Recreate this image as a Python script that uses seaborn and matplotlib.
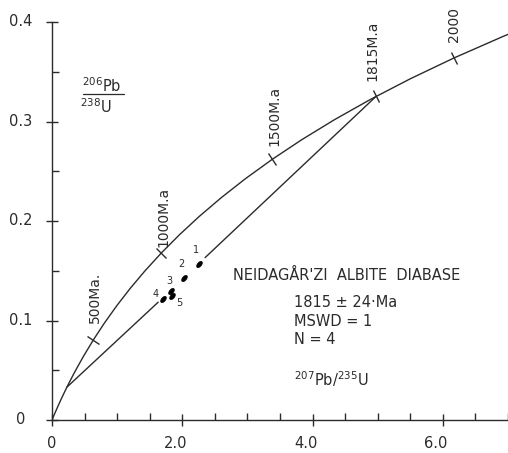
import numpy as np
import pandas as pd
import matplotlib
matplotlib.use("Agg")
import matplotlib.pyplot as plt
from matplotlib.markers import MarkerStyle
from matplotlib.transforms import Affine2D, blended_transform_factory, ScaledTranslation
import seaborn as sns

# ---------------- data ----------------
# Concordia curve (207Pb/235U, 206Pb/238U) at ages (Ma)
conc_age = [0, 50, 100, 150, 200, 250, 300, 400, 500, 600, 700, 800, 900, 1000, 1100,
            1200, 1300, 1400, 1500, 1600, 1700, 1800, 1900, 2000, 2100, 2120]
conc_x = [0.0, 0.050475, 0.10350, 0.15920, 0.21772, 0.27915, 0.34375, 0.48279, 0.63627,
          0.80566, 0.99257, 1.19876, 1.42640, 1.67741, 1.95457, 2.26030, 2.59773, 2.97000,
          3.38099, 3.83446, 4.33478, 4.88702, 5.49641, 6.16890, 6.91091, 7.0676]
conc_y = [0.0, 0.0077864, 0.015633, 0.023542, 0.031511, 0.039543, 0.047637, 0.064016,
          0.080650, 0.097543, 0.11470, 0.13213, 0.14982, 0.16780, 0.18605, 0.20459,
          0.22342, 0.24256, 0.26199, 0.28173, 0.30177, 0.32213, 0.34281, 0.36380,
          0.38512, 0.38939]

# Age marks on concordia
mark_x = [0.636, 1.677, 3.381, 4.974, 6.169]
mark_y = [0.0807, 0.1678, 0.2620, 0.3252, 0.3638]
mark_labels = ["500Ma.", "1000M.a", "1500M.a", "1815M.a", "2000"]

# Discordia line (two segments, gap around the data points)
disc1_x = [0.230, 1.63]
disc1_y = [0.0331, 0.1184]
disc2_x = [2.35, 4.974]
disc2_y = [0.1632, 0.3252]

# Analysed fractions
pt_x = [2.26, 2.03, 1.83, 1.71, 1.84]
pt_y = [0.157, 0.143, 0.130, 0.122, 0.125]
pt_labels = ["1", "2", "3", "4", "5"]

x_ticks = [0, 2, 4, 6]
x_ticklabels = ["0", "2.0", "4.0", "6.0"]
y_ticks = [0, 0.1, 0.2, 0.3, 0.4]
y_ticklabels = ["0", "0.1", "0.2", "0.3", "0.4"]

# ---------------- style ----------------
sns.set_style("ticks")
plt.rcParams["font.family"] = ["DejaVu Sans"]
INK = "#2b2b2b"

fig = plt.figure(figsize=(5.08, 4.53), dpi=100)
ax = fig.add_axes([52 / 508, 33 / 453, 456 / 508, 398 / 453])

conc = pd.DataFrame({"x": conc_x, "y": conc_y})
sns.lineplot(data=conc, x="x", y="y", sort=False, estimator=None, color=INK, lw=1.0, ax=ax)
for dx, dy in [(disc1_x, disc1_y), (disc2_x, disc2_y)]:
    sns.lineplot(x=dx, y=dy, sort=False, estimator=None, color=INK, lw=1.0, ax=ax)

# age ticks on concordia
tick_angles = [147.8, 136.4, 124.8, 118.1, 114.6]
label_offsets = [(2, 17), (2, 6), (2, 13), (-4, 15), (0, 16)]
for x, y, lab, ang, off in zip(mark_x, mark_y, mark_labels, tick_angles, label_offsets):
    m = MarkerStyle("_", transform=Affine2D().rotate_deg(ang))
    ax.plot([x], [y], marker=m, ms=10, mew=1.0, color=INK, ls="none")
    ax.annotate(lab, (x, y), xytext=off, textcoords="offset pixels", rotation=90,
                ha="center", va="bottom", fontsize=10, color=INK)

# data points as small elongated ellipses
ell = MarkerStyle("o", transform=Affine2D().scale(1.0, 0.55).rotate_deg(50))
pts = pd.DataFrame({"x": pt_x, "y": pt_y})
sns.scatterplot(data=pts, x="x", y="y", marker=ell, s=28, color="black",
                edgecolor="black", linewidth=0.5, ax=ax, zorder=5)
pt_offsets = [(-3, 14), (-3, 14), (-2, 10), (-8, 5), (7, -7)]
for x, y, lab, off in zip(pt_x, pt_y, pt_labels, pt_offsets):
    ax.annotate(lab, (x, y), xytext=off, textcoords="offset pixels",
                ha="center", va="center", fontsize=7, color=INK)

# texts
ax.text(2.78, 0.145, "NEIDAGÅR'ZI  ALBITE  DIABASE", fontsize=10.5, color=INK,
        ha="left", va="center")
ax.text(3.71, 0.118, "1815 ± 24·Ma", fontsize=10.5, color=INK, ha="left", va="center")
ax.text(3.71, 0.099, "MSWD = 1", fontsize=10.5, color=INK, ha="left", va="center")
ax.text(3.71, 0.081, "N = 4", fontsize=10.5, color=INK, ha="left", va="center")
ax.text(3.71, 0.034, r"$^{207}$Pb/$^{235}$U", fontsize=10.5, color=INK,
        ha="left", va="baseline")

ax.text(0.110, 0.839, r"$^{206}$Pb", transform=ax.transAxes, fontsize=10.5,
        color=INK, ha="center", va="center")
ax.plot([0.068, 0.158], [0.819, 0.819], transform=ax.transAxes, color=INK, lw=0.9,
        clip_on=False)
ax.text(0.096, 0.787, r"$^{238}$U", transform=ax.transAxes, fontsize=10.5,
        color=INK, ha="center", va="center")

# axes
ax.set_xlim(0, 7.0)
ax.set_ylim(0, 0.4)
sns.despine(ax=ax)
for s in ["left", "bottom"]:
    ax.spines[s].set_color(INK)
    ax.spines[s].set_linewidth(1.0)
ax.set_xticks(x_ticks)
ax.set_yticks(y_ticks)
ax.set_xticks(np.arange(0, 7.01, 0.5), minor=True)
ax.set_yticks(np.arange(0, 0.401, 0.05), minor=True)
ax.tick_params(which="major", direction="inout", length=9, width=1.0, color=INK,
               labelbottom=False, labelleft=False)
ax.tick_params(which="minor", direction="in", length=5, width=1.0, color=INK)
ax.set_xlabel("")
ax.set_ylabel("")

xt = blended_transform_factory(ax.transData, ax.transAxes)
for v, lab in zip(x_ticks, x_ticklabels):
    dx = 0 if v == 0 else -7
    ax.annotate(lab, (v, 0), xycoords=xt, xytext=(dx, -23), textcoords="offset pixels",
                ha="center", va="center", fontsize=10.5, color=INK, annotation_clip=False)
yt = blended_transform_factory(ax.transAxes, ax.transData)
for v, lab in zip(y_ticks, y_ticklabels):
    ax.annotate(lab, (0, v), xycoords=yt, xytext=(-31, 0), textcoords="offset pixels",
                ha="center", va="center", fontsize=10.5, color=INK, annotation_clip=False)

fig.savefig("out.png", dpi=100, facecolor="white")
